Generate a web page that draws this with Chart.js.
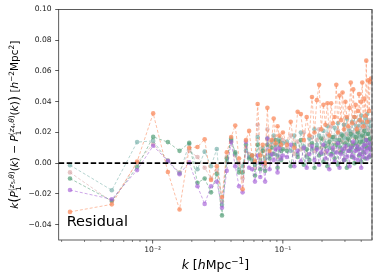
<!DOCTYPE html>
<html><head><meta charset="utf-8">
<script src="https://cdn.jsdelivr.net/npm/chart.js@4/dist/chart.umd.min.js"></script>
<style>html,body{margin:0;padding:0;background:#fff;}</style>
</head><body>
<canvas id="c" width="379" height="280"></canvas>
<script>
// ---- data ----
const kValues = [0.00232,0.00486,0.0076,0.0101,0.0131,0.0161,0.0191,0.0221,0.0251,0.0281,0.0311,0.0341,0.0371,0.0401,0.0431,0.0461,0.0491,0.0521,0.0551,0.0581,0.0611,0.0641,0.0671,0.0701,0.0731,0.0761,0.0791,0.0821,0.0851,0.0881,0.0911,0.0941,0.0971,0.1001,
0.1075,0.115,0.1225,0.13,0.1375,0.145,0.1525,0.16,0.1675,0.175,0.1825,0.19,0.1975,0.205,0.2125,0.22,0.2275,0.235,0.2425,0.25,0.2575,0.265,0.2725,0.28,0.2875,0.295,0.3025,0.31,0.3175,0.325,0.3325,0.34,0.3475,0.355,0.3625,0.37,0.3775,0.385,0.3925,0.40,0.4075,0.415,0.4225,0.43,0.4375,0.445,0.4525,0.46,0.4675,0.475];

const orangeRes = [-0.0317,-0.0268,0.0010,0.0324,-0.0057,-0.0302,0.0100,0.0105,0.0155,-0.0110,-0.0020,-0.0220,0.0070,0.0170,0.0245,0.0030,-0.0170,0.0150,0.0210,0.0050,0.0010,0.0385,0.0050,0.0120,0.0000,0.0360,0.0080,0.0150,0.0290,0.0130,0.0240,0.0180,0.0120,0.0200,
0.012,0.027,0.010,0.0334,0.032,0.015,0.030,0.018,0.043,0.020,0.041,0.051,0.022,0.038,0.025,0.039,0.018,0.039,0.026,0.030,0.051,0.020,0.044,0.028,0.046,0.022,0.040,0.030,0.024,0.036,0.0525,0.026,0.048,0.030,0.038,0.022,0.034,0.045,0.028,0.040,0.0525,0.024,0.042,0.031,0.0667,0.027,0.054,0.034,0.053,0.055];

const greenRes = [-0.0100,-0.0245,-0.0025,0.0171,0.0137,0.0080,0.0132,-0.0128,-0.0100,-0.0190,-0.0070,-0.0340,0.0030,0.0150,0.0070,-0.0060,-0.0060,0.0120,0.0030,0.0050,-0.0080,0.0120,-0.0040,0.0080,-0.0050,0.0120,0.0030,0.0100,0.0060,0.0150,-0.0030,0.0140,0.0020,0.0090,
0.008,-0.002,0.012,0.004,0.015,-0.001,0.009,0.002,0.013,-0.003,0.010,0.005,0.016,0.001,0.011,-0.002,0.014,0.006,0.017,0.003,0.012,-0.001,0.015,0.007,0.018,0.002,0.013,-0.003,0.016,0.008,0.019,0.004,0.012,0.000,0.017,0.009,0.020,0.005,0.014,0.001,0.018,0.007,0.021,0.003,0.015,0.010,0.019,0.004,0.016,0.009];

const tealRes = [-0.0013,-0.0176,0.0137,0.0145,0.0015,-0.0065,0.0125,-0.0040,0.0075,-0.0020,0.0092,-0.0270,0.0010,0.0160,0.0060,-0.0040,-0.0020,0.0080,0.0040,0.0020,-0.0010,0.0170,0.0000,0.0100,0.0030,0.0160,0.0050,0.0140,0.0180,0.0120,0.0050,0.0160,0.0080,0.0130,
0.014,0.008,0.018,0.006,0.020,0.011,0.004,0.016,0.009,0.022,0.012,0.018,0.006,0.021,0.013,0.024,0.010,0.017,0.007,0.023,0.015,0.026,0.011,0.019,0.008,0.025,0.016,0.029,0.012,0.021,0.009,0.027,0.018,0.030,0.013,0.024,0.010,0.028,0.017,0.031,0.014,0.026,0.011,0.029,0.019,0.032,0.015,0.027,0.012,0.024];

const purpleRes = [-0.0175,-0.0235,-0.0045,0.0113,0.0013,-0.0072,0.0005,-0.0150,-0.0265,-0.0150,-0.0120,-0.0290,-0.0050,0.0138,-0.0020,-0.0150,-0.0190,0.0140,-0.0030,-0.0040,-0.0120,0.0050,-0.0090,0.0000,-0.0120,0.0160,-0.0040,0.0060,0.0020,0.0090,-0.0060,0.0100,0.0030,0.0050,
0.004,0.012,-0.002,0.008,0.001,0.010,-0.003,0.006,0.011,0.002,0.009,-0.001,0.007,0.012,0.003,0.008,-0.004,0.005,0.010,0.001,0.007,0.013,-0.003,0.006,0.009,0.002,0.011,0.004,0.008,-0.002,0.010,0.005,0.014,0.003,0.008,0.011,0.002,0.009,0.006,-0.003,0.010,0.004,0.012,0.007,0.015,0.003,0.009,0.013,0.005,0.010];

const pinkRes = [-0.0060,-0.0250,0.0002,0.0125,0.0018,-0.0060,0.0080,0.0040,-0.0030,-0.0100,-0.0050,-0.0250,0.0040,0.0140,0.0050,0.0000,-0.0100,0.0100,0.0060,0.0030,-0.0030,0.0250,0.0020,0.0080,-0.0020,0.0220,0.0060,0.0120,0.0160,0.0100,0.0040,0.0120,0.0080,0.0150,
0.010,0.018,0.006,0.014,0.009,0.020,0.005,0.012,0.017,0.008,0.015,0.022,0.010,0.016,0.007,0.019,0.012,0.024,0.009,0.017,0.013,0.021,0.008,0.018,0.014,0.025,0.010,0.019,0.015,0.023,0.011,0.020,0.013,0.026,0.016,0.021,0.012,0.024,0.018,0.027,0.014,0.022,0.017,0.025,0.011,0.023,0.019,0.028,0.015,0.021];

const yTicks = [-0.04,-0.02,0.00,0.02,0.04,0.06,0.08,0.10];
const xMajorTicks = [0.01, 0.1];
const xMinorTicks = [0.002,0.003,0.004,0.005,0.006,0.007,0.008,0.009,0.02,0.03,0.04,0.05,0.06,0.07,0.08,0.09,0.2,0.3,0.4];
const xTickLabels = {0.01: '10\u207B\u00B2', 0.1: '10\u207B\u00B9'};
const xRange = [0.0019, 0.484];
const yRange = [-0.05, 0.10];
const annotationText = 'Residual';

// ---- chart ----
const pts = arr => kValues.map((k, i) => ({x: k, y: arr[i]}));
function series(arr, rgb, lineA, ptA) {
  return {
    data: pts(arr),
    borderColor: `rgba(${rgb},${lineA})`,
    backgroundColor: `rgba(${rgb},${ptA})`,
    pointBackgroundColor: `rgba(${rgb},${ptA})`,
    pointBorderWidth: 0,
    pointRadius: 2.3,
    borderWidth: 1,
    borderDash: [3, 2],
    tension: 0,
    fill: false
  };
}
// first dataset is drawn on top
const datasets = [
  series(orangeRes, '250,138,92', 0.55, 0.75),
  series(purpleRes, '165,95,215', 0.55, 0.65),
  series(greenRes, '82,158,118', 0.55, 0.7),
  series(tealRes, '122,178,172', 0.55, 0.7),
  series(pinkRes, '214,158,158', 0.5, 0.6)
];

const FONT = "'DejaVu Sans', sans-serif";
function drawRich(ctx, segs, B, x, y) {
  let total = 0;
  const w = segs.map(s => {
    ctx.font = (s.it ? 'italic ' : '') + (B * (s.sc || 1)) + 'px ' + FONT;
    const m = ctx.measureText(s.t).width;
    if (s.adv !== false) total += m;
    return m;
  });
  let cx = x - total / 2;
  segs.forEach((s, i) => {
    ctx.font = (s.it ? 'italic ' : '') + (B * (s.sc || 1)) + 'px ' + FONT;
    ctx.fillText(s.t, cx, y + (s.dy || 0) * B);
    if (s.adv !== false) cx += w[i];
  });
  return total;
}
const sup = (t, it) => ({t, it, sc: 0.7, dy: -0.42});
function Pterm(n) {
  return [
    {t: 'P', it: true},
    {t: '1', sc: 0.7, dy: 0.28, adv: false},
    sup('('), sup('z', true), {t: n, sc: 0.5, dy: -0.3}, sup(','), sup('\u03B8', true), sup(')'),
    {t: '('}, {t: 'k', it: true}, {t: ')'}
  ];
}
const yTitleSegs = [
  {t: 'k', it: true}, {t: '(', sc: 1.3, dy: 0.08},
  ...Pterm('5'), {t: ' \u2212 '}, ...Pterm('4'),
  {t: ')', sc: 1.3, dy: 0.08}, {t: ' ['}, {t: 'h', it: true}, sup('\u22122'), {t: 'Mpc'}, sup('2'), {t: ']'}
];
const xTitleSegs = [{t: 'k', it: true}, {t: ' ['}, {t: 'h', it: true}, {t: 'Mpc'}, sup('\u22121'), {t: ']'}];

const decor = {
  id: 'decor',
  afterDatasetsDraw(chart) {
    const {ctx, chartArea: a, scales: {y}} = chart;
    ctx.save();
    const y0 = y.getPixelForValue(0);
    ctx.strokeStyle = '#000'; ctx.lineWidth = 1.6; ctx.setLineDash([5.5, 2.5]);
    ctx.beginPath(); ctx.moveTo(a.left, y0); ctx.lineTo(a.right, y0); ctx.stroke();
    ctx.restore();
  },
  afterDraw(chart) {
    const {ctx, chartArea: a, scales: {x}} = chart;
    ctx.save();
    ctx.strokeStyle = '#333'; ctx.lineWidth = 0.8; ctx.setLineDash([]);
    ctx.strokeRect(a.left, a.top, a.right - a.left, a.bottom - a.top);
    ctx.strokeStyle = 'rgba(110,110,110,0.9)'; ctx.lineWidth = 1.5; ctx.setLineDash([4, 2]);
    ctx.beginPath(); ctx.moveTo(a.right, a.top); ctx.lineTo(a.right, a.bottom); ctx.stroke();
    ctx.setLineDash([]);
    ctx.strokeStyle = '#333'; ctx.lineWidth = 0.8;
    xMajorTicks.forEach(v => { const p = x.getPixelForValue(v); ctx.beginPath(); ctx.moveTo(p, a.bottom); ctx.lineTo(p, a.bottom + 3.5); ctx.stroke(); });
    ctx.lineWidth = 0.6;
    xMinorTicks.forEach(v => { const p = x.getPixelForValue(v); ctx.beginPath(); ctx.moveTo(p, a.bottom); ctx.lineTo(p, a.bottom + 2); ctx.stroke(); });
    ctx.fillStyle = '#000'; ctx.textBaseline = 'alphabetic'; ctx.textAlign = 'left';
    ctx.font = '14.5px ' + FONT;
    ctx.fillText(annotationText, a.left + 8, a.bottom - 14);
    drawRich(ctx, xTitleSegs, 12.5, (a.left + a.right) / 2, 269);
    ctx.save();
    ctx.translate(18, (a.top + a.bottom) / 2);
    ctx.rotate(-Math.PI / 2);
    drawRich(ctx, yTitleSegs, 10.5, 0, 0);
    ctx.restore();
    ctx.restore();
  }
};

new Chart(document.getElementById('c'), {
  type: 'line',
  data: {datasets},
  options: {
    responsive: false,
    devicePixelRatio: 1,
    animation: false,
    layout: {padding: {top: 9.5, right: 7, left: 0, bottom: 0}},
    plugins: {legend: {display: false}, tooltip: {enabled: false}},
    scales: {
      x: {
        type: 'logarithmic', position: 'bottom',
        min: xRange[0], max: xRange[1],
        afterBuildTicks: s => { s.ticks = xMajorTicks.concat(xMinorTicks).sort((p, q) => p - q).map(v => ({value: v})); },
        afterFit: s => { s.height = 40; },
        grid: {display: false, drawTicks: false},
        border: {display: false},
        ticks: {autoSkip: false, maxRotation: 0, minRotation: 0, padding: 5, color: '#222',
          font: {family: FONT, size: 7.6},
          callback: v => xTickLabels[v] || ''}
      },
      y: {
        type: 'linear', min: yRange[0], max: yRange[1],
        afterBuildTicks: s => { s.ticks = yTicks.map(v => ({value: v})); },
        afterFit: s => { s.width = 58.7; },
        grid: {drawOnChartArea: false, drawTicks: true, tickLength: 3.5, color: '#333', tickWidth: 0.8},
        border: {display: false},
        ticks: {padding: 3.5, color: '#222', font: {family: FONT, size: 7.6},
          callback: v => v.toFixed(2).replace('-', '\u2212')}
      }
    }
  },
  plugins: [decor]
});
</script>
</body></html>
